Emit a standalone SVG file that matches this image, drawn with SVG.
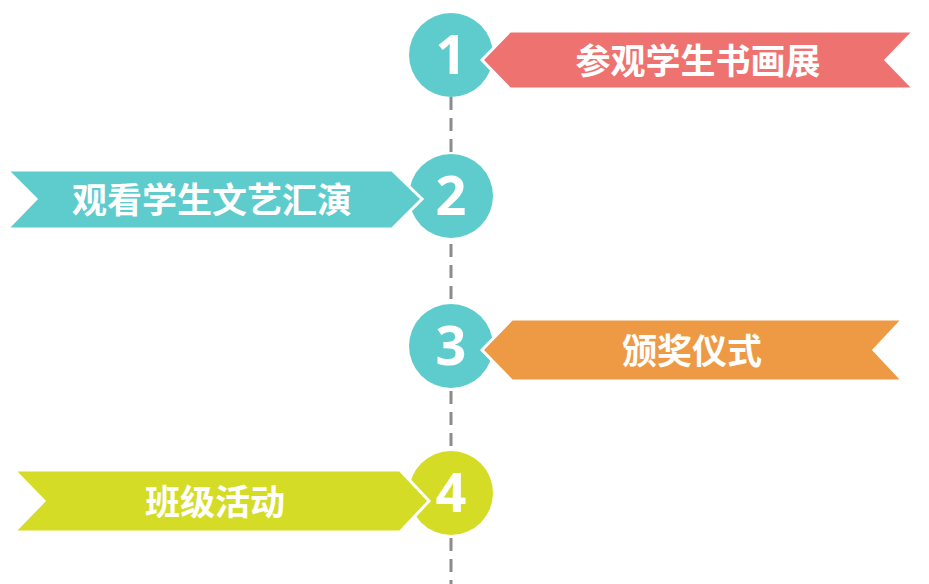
<svg xmlns="http://www.w3.org/2000/svg" width="929" height="584" viewBox="0 0 929 584">
<style>
.num{font-family:"Open Sans","Liberation Sans",sans-serif;font-weight:bold;font-size:54px;fill:#fff;text-anchor:middle}
.lbl{font-family:"Noto Sans CJK SC",sans-serif;font-weight:bold;font-size:35px;fill:#fff;text-anchor:middle}
.b{stroke:#fff;stroke-width:3;stroke-linejoin:miter}
</style>
<rect width="929" height="584" fill="#fff"/>
<g id="connectors"><line x1="451" y1="97" x2="451" y2="584" stroke="#8c8c8c" stroke-width="3" stroke-dasharray="13,8"/></g>
<g id="node1"><circle cx="451" cy="55" r="42" fill="#5ECBCC"/><text class="num" x="451" y="74">1</text>
<polygon class="b" fill="#EE7370" points="482,60 510,31 914,31 886,60 914,89 510,89"/><text class="lbl" x="698" y="74">参观学生书画展</text></g>
<g id="node2"><circle cx="451" cy="196" r="42" fill="#5ECBCC"/><text class="num" x="451" y="215">2</text>
<polygon class="b" fill="#5ECBCC" points="7,170 392,170 422,199 392,229 7,229 36,199"/><text class="lbl" x="212" y="213">观看学生文艺汇演</text></g>
<g id="node3"><circle cx="451" cy="346" r="42" fill="#5ECBCC"/><text class="num" x="451" y="365">3</text>
<polygon class="b" fill="#EE9A45" points="482,350 512,319 903,319 874,350 903,381 512,381"/><text class="lbl" x="692" y="364">颁奖仪式</text></g>
<g id="node4"><circle cx="451" cy="493" r="42" fill="#D4DC26"/><text class="num" x="451" y="512">4</text>
<polygon class="b" fill="#D4DC26" points="14,470 400,470 429,501 400,532 14,532 44,501"/><text class="lbl" x="215" y="515">班级活动</text></g>
</svg>
